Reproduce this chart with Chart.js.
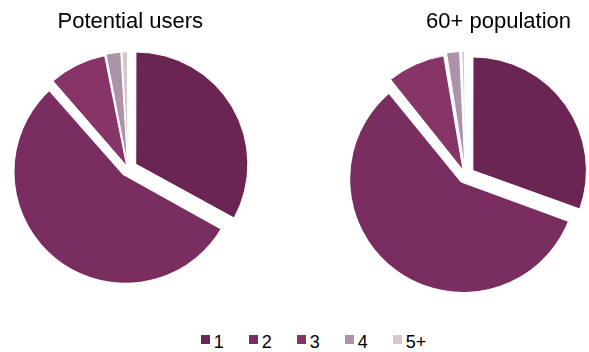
<!DOCTYPE html>
<html>
<head>
<meta charset="utf-8">
<script src="https://cdn.jsdelivr.net/npm/chart.js@4"></script>
<style>
  html, body { margin: 0; padding: 0; background: #fff; }
  #wrap { position: relative; width: 589px; height: 352px; overflow: hidden; }
  #left { position: absolute; left: 0; top: 0; }
  #right { position: absolute; left: 340px; top: 0; }
  #legend {
    position: absolute; left: 38px; top: 332px; width: 551px;
    display: flex; justify-content: center; gap: 25px;
    font: 18px "Liberation Sans", Arial, sans-serif; color: #000;
  }
  #legend span.item { display: flex; align-items: flex-start; }
  #legend span.box { display: inline-block; width: 9px; height: 9px; margin-right: 4px; margin-top: 3px; }
</style>
</head>
<body>
<div id="wrap">
  <canvas id="left" width="262" height="310"></canvas>
  <canvas id="right" width="249" height="320"></canvas>
  <div id="legend"></div>
</div>
<script>
const categories = ['1', '2', '3', '4', '5+'];
const potentialUsers = [33, 55.6, 8.3, 2.2, 0.9];
const population60 = [30.5, 58.7, 8.2, 2.0, 0.6];
const colours = ['#6A2552', '#792E5F', '#873566', '#AD93A7', '#D4C8CF'];

function pie(id, title, values, radius, offsets, padding) {
    return new Chart(document.getElementById(id), {
        type: 'pie',
        data: {
            labels: categories,
            datasets: [{
                data: values,
                backgroundColor: colours,
                borderColor: '#fff',
                // wide white edge on slice 2 opens the gaps around it
                borderWidth: [1, 8, 1, 1, 1],
                // Chart.js moves an arc by a quarter of its offset
                offset: offsets,
                radius: radius,
            }],
        },
        options: {
            responsive: false,
            animation: false,
            layout: { padding: padding },
            plugins: {
                legend: { display: false },
                tooltip: { enabled: false },
                title: {
                    display: true,
                    text: title,
                    align: 'end',
                    color: '#000',
                    font: { family: 'Liberation Sans', size: 22, weight: 'normal' },
                    padding: { top: 9, bottom: 10 },
                },
            },
        },
    });
}

const left = pie('left', 'Potential users', potentialUsers, 111, [36, 16, 12, 12, 12],
    { left: 53, right: 59, top: 0, bottom: 18 });
pie('right', '60+ population', population60, 113, [36, 16, 24, 24, 24],
    { left: 20, right: 18, top: 0, bottom: 14 });

// shared legend below both pies
const items = Chart.overrides.pie.plugins.legend.labels.generateLabels(left);
const legend = document.getElementById('legend');
items.forEach(it => {
    const item = document.createElement('span');
    item.className = 'item';
    const box = document.createElement('span');
    box.className = 'box';
    box.style.background = it.fillStyle;
    item.appendChild(box);
    item.appendChild(document.createTextNode(it.text));
    legend.appendChild(item);
});
</script>
</body>
</html>
